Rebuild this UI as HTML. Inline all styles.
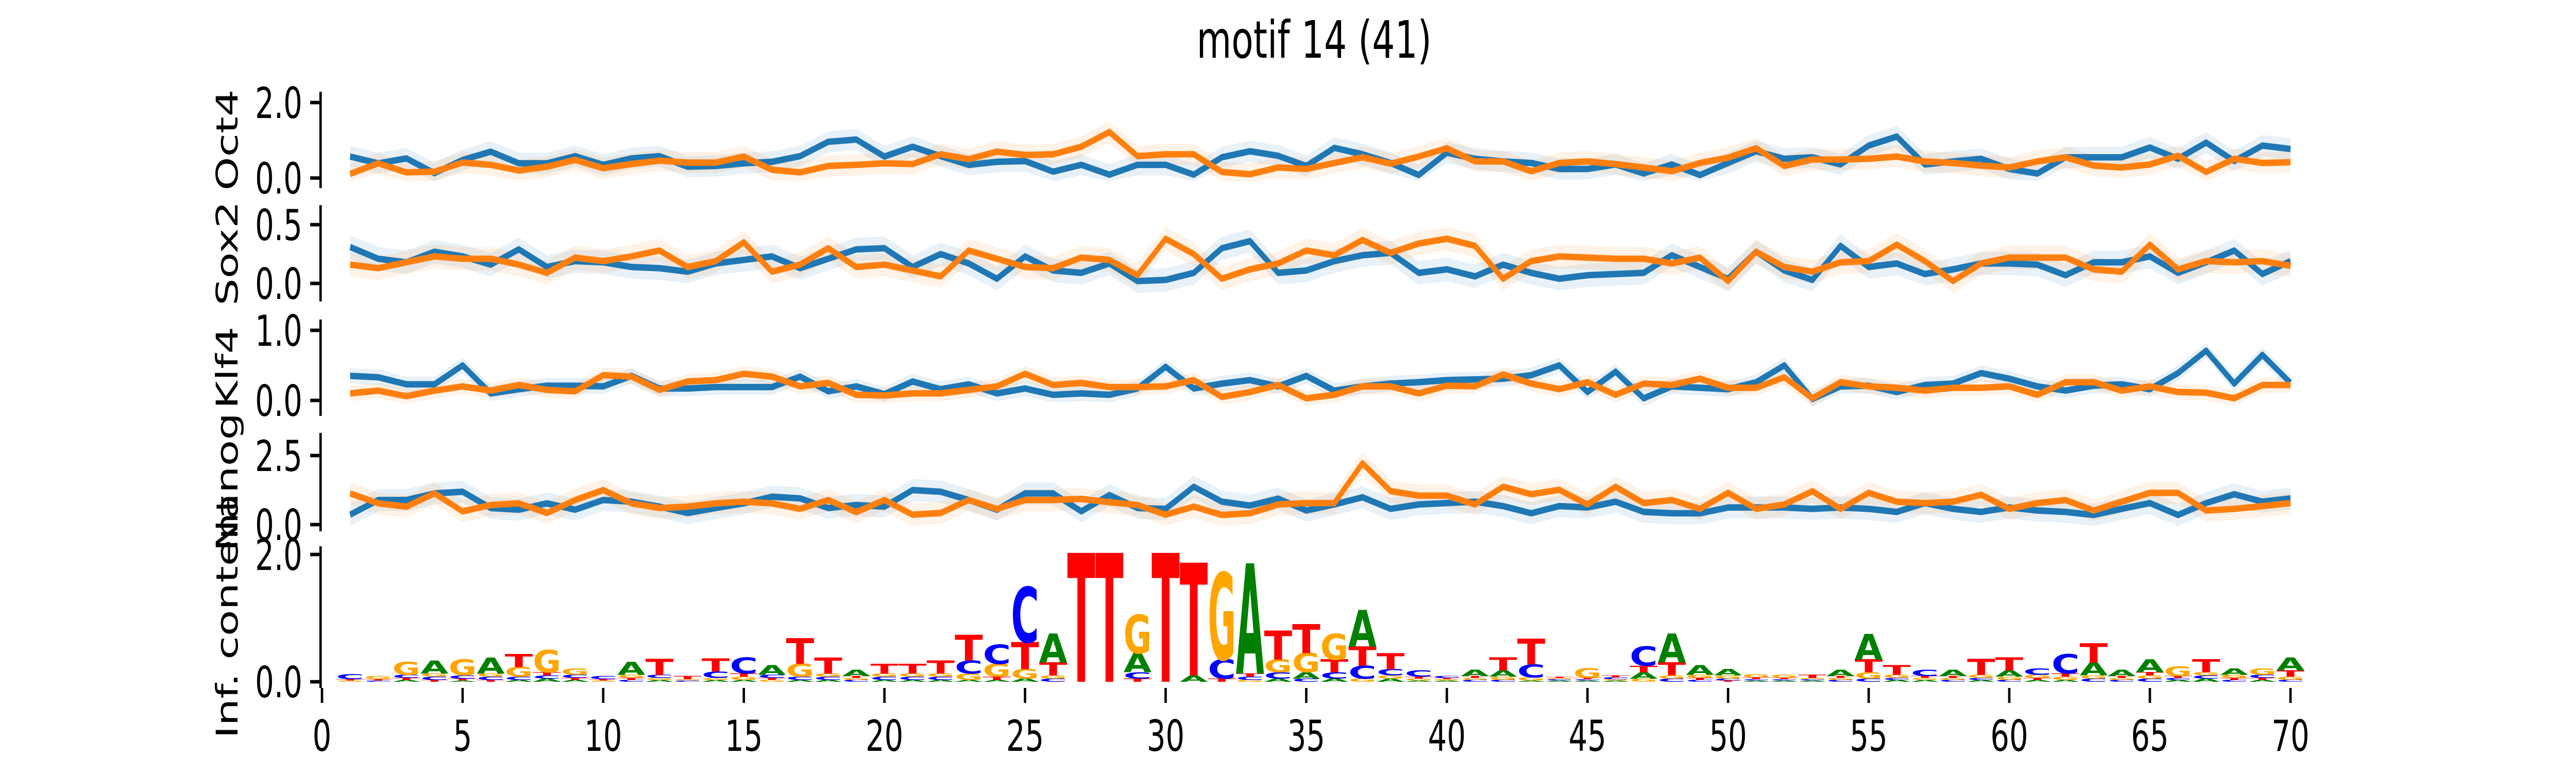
<!DOCTYPE html>
<html><head><meta charset="utf-8"><style>
html,body{margin:0;padding:0;background:#fff;width:100%;height:100%;overflow:hidden}
svg{display:block;position:absolute;left:0;top:0;width:100%;height:100%}
text{font-family:"DejaVu Sans","Liberation Sans",sans-serif}
</style></head><body>
<svg id="chart" viewBox="0 0 7200 1500" preserveAspectRatio="none" xmlns="http://www.w3.org/2000/svg">
<text x="3673" y="112" font-size="100" text-anchor="middle">motif 14 (41)</text>
<g id="panels"></g>
</svg>
<script>
const positions = [];
for (let i = 1; i <= 70; i++) positions.push(i);
const xTicks = [0,5,10,15,20,25,30,35,40,45,50,55,60,65,70];

const oct4Blue = [.57,.39,.52,.13,.48,.70,.39,.39,.58,.35,.52,.58,.30,.32,.39,.43,.58,.96,1.02,.57,.83,.58,.35,.43,.45,.17,.35,.09,.35,.35,.09,.55,.71,.59,.32,.80,.63,.40,.08,.67,.51,.44,.40,.24,.24,.36,.12,.36,.08,.40,.71,.51,.55,.36,.86,1.10,.36,.44,.51,.24,.12,.55,.55,.55,.81,.51,.94,.45,.86,.77];
const oct4Orange = [.11,.39,.15,.17,.41,.35,.20,.30,.48,.26,.37,.46,.41,.41,.57,.22,.15,.32,.35,.39,.37,.63,.50,.70,.61,.63,.83,1.22,.58,.63,.63,.16,.10,.28,.24,.40,.55,.38,.57,.79,.44,.44,.18,.40,.44,.37,.28,.18,.40,.54,.79,.32,.49,.49,.51,.57,.44,.40,.33,.28,.44,.55,.33,.28,.36,.59,.16,.51,.40,.42];
const sox2Blue = [.31,.21,.18,.27,.23,.16,.29,.14,.19,.18,.14,.13,.10,.17,.20,.23,.13,.21,.29,.30,.14,.25,.17,.04,.23,.11,.09,.17,.02,.03,.09,.30,.36,.09,.11,.19,.24,.26,.09,.12,.06,.16,.09,.04,.07,.08,.09,.24,.14,.04,.27,.11,.03,.32,.14,.17,.08,.12,.17,.17,.16,.07,.18,.18,.23,.09,.18,.28,.08,.19];
const sox2Orange = [.16,.13,.18,.23,.21,.21,.16,.09,.22,.19,.23,.28,.14,.19,.35,.10,.16,.30,.14,.16,.11,.06,.28,.21,.14,.13,.22,.20,.07,.38,.25,.04,.12,.17,.28,.24,.37,.26,.34,.38,.32,.04,.19,.23,.22,.21,.21,.17,.22,.02,.27,.14,.10,.18,.19,.33,.19,.02,.17,.22,.22,.22,.12,.10,.33,.12,.19,.18,.19,.15];
const klf4Blue = [.35,.33,.23,.23,.50,.10,.16,.21,.21,.20,.35,.17,.17,.19,.19,.19,.34,.13,.20,.09,.27,.16,.23,.10,.17,.08,.10,.08,.17,.48,.17,.24,.29,.20,.35,.14,.20,.24,.26,.29,.30,.31,.36,.50,.12,.41,.03,.20,.18,.16,.26,.50,.02,.20,.21,.12,.22,.24,.39,.31,.20,.14,.21,.23,.16,.39,.71,.24,.65,.25];
const klf4Orange = [.10,.14,.06,.14,.20,.14,.22,.15,.13,.36,.34,.15,.27,.29,.38,.34,.20,.25,.08,.07,.10,.10,.15,.20,.38,.22,.25,.19,.19,.20,.29,.05,.12,.22,.03,.08,.20,.20,.10,.21,.20,.37,.24,.16,.26,.08,.24,.22,.31,.18,.18,.33,.03,.26,.20,.18,.14,.18,.18,.20,.08,.26,.26,.14,.20,.12,.11,.03,.22,.22];
const nanogBlue = [.36,.89,.89,1.13,1.19,.60,.54,.77,.54,.89,.83,.65,.42,.60,.77,1.01,.95,.60,.71,.65,1.25,1.19,.89,.54,1.13,1.13,.48,1.07,.60,.57,1.37,.83,.69,.94,.51,.73,.99,.57,.73,.78,.83,.67,.41,.67,.62,.83,.46,.41,.41,.62,.62,.62,.57,.62,.57,.46,.78,.57,.46,.62,.51,.46,.35,.57,.78,.35,.78,1.10,.83,.95];
const nanogOrange = [1.13,.77,.65,1.13,.48,.71,.77,.42,.89,1.25,.77,.60,.65,.77,.83,.77,.57,.89,.45,.89,.36,.42,.89,.57,.89,.89,.93,.81,.71,.36,.65,.35,.41,.73,.78,.78,2.22,1.21,1.05,1.05,.73,1.37,1.10,1.26,.73,1.37,.78,.89,.57,1.15,.57,.73,1.21,.57,1.15,.83,.78,.83,1.08,.57,.78,.89,.51,.83,1.15,1.15,.51,.57,.67,.78];

const logoA = [0,0,.03,.2,.02,.25,.03,.05,.03,0,.2,.03,0,.03,.03,.15,.03,.03,.1,.03,.03,.03,.03,.03,.05,.45,0,0,.3,0,.1,0,1.71,.05,.1,.05,.57,.05,.02,.02,.1,.1,.02,.02,.02,.02,.1,.45,.15,.1,.02,.02,.02,.1,.4,.03,.03,.1,.03,.1,.03,.03,.2,.1,.2,.03,.05,.1,.03,.2];
const logoC = [.08,.02,.05,.05,.05,.05,.05,.05,.05,.05,.03,.05,.02,.1,.25,.05,.05,.05,.03,.05,.05,.05,.2,.3,.86,.05,0,0,.1,0,0,.3,.05,.1,.05,.1,.2,.1,.1,.03,.03,.03,.2,.02,.02,.03,.3,.05,.03,.03,.02,.02,.02,.03,.05,.03,.1,.03,.03,.03,.1,.3,.05,.03,.05,.03,.05,.03,.05,.03];
const logoG = [.02,.05,.2,.05,.25,.05,.15,.35,.1,.02,.05,.03,.02,.03,.05,.03,.2,.05,.03,.05,.05,.05,.1,.2,.15,.05,0,0,.6,0,0,1.35,.03,.2,.3,.4,.05,.05,.03,.02,.03,.05,.05,.02,.15,.02,.05,.05,.05,.05,.05,.05,.02,.03,.1,.05,.03,.03,.05,.05,.05,.05,.05,.03,.05,.15,.05,.05,.1,.05];
const logoT = [.02,.02,.03,.03,.03,.03,.2,.05,.03,.02,.03,.25,.05,.2,.05,.03,.4,.25,.03,.15,.15,.2,.4,.05,.42,.2,2.0,2.0,.05,2.0,1.75,.05,.05,.45,.45,.2,.3,.25,.03,.02,.03,.2,.4,.02,.02,.03,.1,.2,.03,.02,.03,.02,.05,.03,.2,.15,.03,.03,.25,.2,.03,.05,.3,.03,.05,.03,.2,.03,.03,.1];

const X0 = 900, XU = 78.6, AX_L = 896;
const sx = v => X0 + v * XU;
const NS = 'http://www.w3.org/2000/svg';
const root = document.getElementById('panels');
function el(tag, attrs, parent) {
  const e = document.createElementNS(NS, tag);
  for (const k in attrs) e.setAttribute(k, attrs[k]);
  (parent || root).appendChild(e);
  return e;
}

const panels = [
  {name:'oct4', label:'Oct4', top:178, bot:365, y0:345.5, pu:73.25, ticks:[0,2], tl:['0.0','2.0'], blue:oct4Blue, orange:oct4Orange, err:0.28},
  {name:'sox2', label:'Sox2', top:398, bot:585, y0:550, pu:228, ticks:[0,0.5], tl:['0.0','0.5'], blue:sox2Blue, orange:sox2Orange, err:0.1},
  {name:'klf4', label:'Klf4', top:620, bot:807, y0:777, pu:136, ticks:[0,1], tl:['0.0','1.0'], blue:klf4Blue, orange:klf4Orange, err:0.11},
  {name:'nanog', label:'Nanog', top:840, bot:1031, y0:1018, pu:53.6, ticks:[0,2.5], tl:['0.0','2.5'], blue:nanogBlue, orange:nanogOrange, err:0.4}
];

function yAxis(g, p, prefix) {
  const sp = el('line', {x1:AX_L, x2:AX_L, y1:p.top, y2:p.bot, stroke:'#000', 'stroke-width':6.7}, g);
  
  
  p.ticks.forEach((t, i) => {
    const y = p.y0 - t * p.pu;
    const tk = el('line', {x1:AX_L - 29, x2:AX_L, y1:y, y2:y, stroke:'#000', 'stroke-width':6.7}, g);
    
    
    const tx = el('text', {x:845, y:y + 30, 'font-size':83, 'text-anchor':'end'}, g);
    tx.textContent = p.tl[i];
    
    
  });
  const cy = (p.top + p.bot) / 2;
  const lb = el('text', {x:0, y:0, 'font-size':83, 'text-anchor':'middle', transform:`translate(664,${cy}) rotate(-90)`}, g);
  lb.textContent = p.label;
  
  
}

panels.forEach(p => {
  const g = el('g', {});
  
  
  [['blue', '#1f77b4'], ['orange', '#ff7f0e']].forEach(([k, c]) => {
    const vals = p[k];
    const up = vals.map((v, i) => `${sx(positions[i])},${p.y0 - (v + p.err) * p.pu}`);
    const dn = vals.map((v, i) => `${sx(positions[i])},${p.y0 - Math.max(v - p.err, -0.08) * p.pu}`).reverse();
    const band = el('polygon', {points: up.concat(dn).join(' '), fill:c, 'fill-opacity':0.1}, g);
    
    
  });
  [['blue', '#1f77b4'], ['orange', '#ff7f0e']].forEach(([k, c]) => {
    const vals = p[k];
    const pts = vals.map((v, i) => `${sx(positions[i])},${p.y0 - v * p.pu}`).join(' ');
    const ln = el('polyline', {points:pts, fill:'none', stroke:c, 'stroke-width':12.5, 'stroke-linejoin':'round'}, g);
    
    
  });
  yAxis(g, p, p.name);
});

const logo = {label:'Inf. content', top:1060, bot:1335, y0:1323, pu:123.5, ticks:[0,2], tl:['0.0','2.0']};
const lg = el('g', {});


const colors = {A:'#008000', C:'#0000ff', G:'#ffa500', T:'#ff0000'};
positions.forEach((pos, i) => {
  const stack = [['A', logoA[i]], ['C', logoC[i]], ['G', logoG[i]], ['T', logoT[i]]].filter(s => s[1] > 0).sort((a, b) => a[1] - b[1]);
  let base = logo.y0;
  const xl = sx(pos) - XU / 2;
  stack.forEach(([L, h]) => {
    const hp = h * logo.pu;
    const t = el('text', {x:0, y:0, 'font-size':100, 'font-weight':'bold', fill:colors[L], textLength:60, lengthAdjust:'spacingAndGlyphs', 'font-family':'Liberation Sans, sans-serif',
      transform:`translate(${xl},${base}) scale(${XU / 60},${hp / 72})`}, lg);
    t.textContent = L;
    
    
    base -= hp;
  });
});
yAxis(lg, logo, 'logo');
xTicks.forEach(t => {
  const x = sx(t);
  const tk = el('line', {x1:x, x2:x, y1:1335, y2:1364, stroke:'#000', 'stroke-width':6.7}, lg);
  
  
  const tx = el('text', {x:x, y:1457, 'font-size':83, 'text-anchor':'middle'}, lg);
  tx.textContent = String(t);
  
  
});
</script>
</body></html>
